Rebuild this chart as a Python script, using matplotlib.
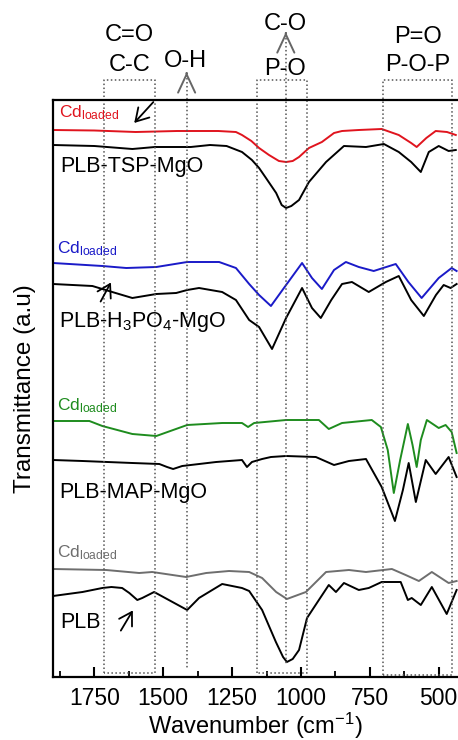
"""
FTIR stack: PLB, PLB-MAP-MgO, PLB-H3PO4-MgO, PLB-TSP-MgO before / after Cd loading.
"""
import matplotlib
matplotlib.use("Agg")
import matplotlib.pyplot as plt
from matplotlib.ticker import MultipleLocator

plt.rcParams.update({
    "font.family": ["Liberation Sans", "DejaVu Sans"],
    "mathtext.fontset": "custom",
    "mathtext.rm": "Liberation Sans",
    "mathtext.it": "Liberation Sans:italic",
    "mathtext.bf": "Liberation Sans:bold",
    "font.size": 16,
})

# ---- spectra (wavenumber cm-1, transmittance a.u., stacked) ----
TSP_CD_WN = [1900, 1750, 1600, 1450, 1300, 1236, 1214, 1180, 1152, 1116, 1080, 1054, 1030,
             1007, 971, 924, 880, 851, 790, 707, 645, 600, 580, 545, 511, 470, 438]
TSP_CD_T = [547, 546.5, 545, 546, 546, 545, 542, 536, 529, 522, 516, 515, 516,
            520, 529, 535, 544, 546, 547, 548, 542, 534, 530, 539, 546, 545, 542]

TSP_WN = [1900, 1750, 1612, 1530, 1400, 1330, 1270, 1214, 1178, 1152, 1127, 1090, 1070,
          1054, 1035, 1007, 971, 909, 844, 764, 699, 645, 600, 565, 536, 500, 464, 438]
TSP_T = [532, 531, 528, 530, 530, 532, 531, 525, 517, 509, 499, 484, 472,
         469, 471, 477, 495, 515, 531, 530, 533, 525, 515, 505, 525, 531, 526, 527]

H3PO4_CD_WN = [1900, 1721, 1634, 1525, 1413, 1297, 1236, 1188, 1152, 1109, 1054, 996, 960,
               924, 880, 837, 790, 736, 656, 610, 562, 500, 453, 435]
H3PO4_CD_T = [414, 411, 409, 410, 415, 415, 409, 393, 382, 371, 392, 414, 399,
              388, 407, 415, 410, 406, 413, 395, 379, 399, 409, 406]

H3PO4_WN = [1900, 1757, 1685, 1612, 1525, 1453, 1413, 1370, 1286, 1236, 1188, 1152, 1105,
            1054, 996, 960, 928, 890, 851, 815, 754, 692, 645, 600, 554, 510, 482, 457, 435]
H3PO4_T = [393, 391, 385, 379, 383, 384, 387, 389, 385, 377, 357, 350, 328,
           359, 389, 369, 359, 377, 393, 395, 385, 395, 401, 377, 361, 382, 392, 389, 393]

MAP_CD_WN = [1900, 1768, 1721, 1612, 1525, 1413, 1286, 1214, 1192, 1170, 1054, 935, 899,
             851, 743, 710, 685, 663, 640, 612, 595, 580, 565, 543, 500, 475, 453, 435]
MAP_CD_T = [256, 256, 251, 243, 241, 252, 254, 254, 250, 254, 257, 257, 248,
            254, 257, 250, 227, 184, 217, 253, 232, 210, 237, 257, 249, 252, 245, 224]

MAP_WN = [1900, 1793, 1612, 1514, 1486, 1464, 1431, 1308, 1214, 1196, 1178, 1141, 1109,
          1054, 946, 880, 826, 764, 707, 659, 630, 609, 583, 547, 511, 464, 435]
MAP_T = [217, 216, 214, 213, 210, 208, 211, 215, 217, 210, 215, 218, 220,
         221, 220, 212, 216, 218, 190, 156, 187, 214, 175, 217, 203, 220, 200]

PLB_CD_WN = [1900, 1707, 1587, 1540, 1417, 1344, 1261, 1188, 1141, 1090, 1051, 982, 909,
             826, 764, 670, 620, 572, 525, 464, 435]
PLB_CD_T = [108, 107, 104, 105, 100, 104, 106, 105, 99, 85, 78, 85, 105,
            107, 105, 108, 102, 96, 105, 94, 96]

PLB_WN = [1900, 1793, 1721, 1688, 1649, 1623, 1594, 1576, 1533, 1413, 1370, 1286, 1214,
          1188, 1141, 1091, 1065, 1051, 1030, 1007, 978, 935, 899, 873, 844, 790, 754, 707,
          638, 612, 598, 565, 525, 471, 435]
PLB_T = [81, 85, 89, 90, 89, 84, 77, 79, 85, 67, 79, 93, 89,
         86, 67, 35, 20, 15, 18, 27, 59, 77, 92, 85, 94, 87, 89, 95,
         95, 77, 79, 72, 90, 63, 87]

SERIES = [
    (TSP_CD_WN, TSP_CD_T, "#e0141e"),
    (TSP_WN, TSP_T, "black"),
    (H3PO4_CD_WN, H3PO4_CD_T, "#1a1ac8"),
    (H3PO4_WN, H3PO4_T, "black"),
    (MAP_CD_WN, MAP_CD_T, "#1e8c1e"),
    (MAP_WN, MAP_T, "black"),
    (PLB_CD_WN, PLB_CD_T, "#6e6e6e"),
    (PLB_WN, PLB_T, "black"),
]

# curve labels: (text, wavenumber, a.u. baseline, colour, size)
CD = r"Cd$_{\mathrm{loaded}}$"
LABELS = [
    (CD, 1880, 560, "#e0141e", 12.5),
    ("PLB-TSP-MgO", 1872, 505, "black", 15.5),
    (CD, 1884, 424, "#1a1ac8", 12.5),
    (r"PLB-H$_3$PO$_4$-MgO", 1877, 350, "black", 15.5),
    (CD, 1884, 267, "#1e8c1e", 12.5),
    ("PLB-MAP-MgO", 1877, 179, "black", 15.5),
    (CD, 1884, 120, "#6e6e6e", 12.5),
    ("PLB", 1874, 49, "black", 15.5),
]

# hand-drawn arrows: (tail wn, tail a.u., head wn, head a.u.)
ARROWS = [
    (1529, 577, 1612, 552),
    (1732, 373, 1685, 397),
    (1659, 44, 1605, 69),
]

# band assignments
BOXES = [(1715, 1530, 4), (1160, 978, 4), (702, 453, 2)]   # (left wn, right wn, bottom a.u.)
BOX_TOP = 597
LINES = [(1415, 605, 9), (1055, 645, 12)]                  # (wn, caret apex a.u., bottom a.u.)
BAND_TEXT = [
    ("C=O", 1622, 642), ("C-C", 1622, 612),
    ("O-H", 1418, 616),
    ("C-O", 1057, 653), ("P-O", 1058, 608),
    ("P=O", 577, 640), ("P-O-P", 577, 612),
]

fig = plt.figure(figsize=(4.58, 7.40), dpi=100)
ax = fig.add_axes([53 / 458, 63 / 740, 405 / 458, 577 / 740])

for wn, t, c in SERIES:
    ax.plot(wn, t, color=c, lw=1.4, solid_joinstyle="round")

dot = dict(color="#555555", lw=1.1, ls=(0, (1, 1.6)), clip_on=False)
for a, b, bot in BOXES:
    ax.plot([a, a, b, b, a], [bot, BOX_TOP, BOX_TOP, bot, bot], **dot)
for wn, apex, bot in LINES:
    ax.plot([wn, wn], [apex - 6, bot], **dot)
    ax.annotate("", xy=(wn, apex), xytext=(0, -3), textcoords="offset points",
                arrowprops=dict(arrowstyle="->,head_length=0.6,head_width=0.28",
                                color="#666666", lw=1.4, mutation_scale=22),
                annotation_clip=False)
for s, wn, y in BAND_TEXT:
    ax.text(wn, y, s, ha="center", va="center", fontsize=17, clip_on=False)

for s, wn, y, c, fs in LABELS:
    ax.text(wn, y, s, color=c, fontsize=fs, ha="left", va="baseline")

for tw, ty, hw, hy in ARROWS:
    ax.annotate("", xy=(hw, hy), xytext=(tw, ty),
                arrowprops=dict(arrowstyle="->,head_length=0.5,head_width=0.3",
                                color="black", lw=1.3, mutation_scale=18))

ax.set_xlim(1900, 430)
ax.set_ylim(0, 577)
ax.xaxis.set_major_locator(MultipleLocator(250))
ax.xaxis.set_minor_locator(MultipleLocator(125))
ax.tick_params(axis="x", which="major", direction="in", length=7, width=1.5,
               labelsize=16.5, pad=7, top=False)
ax.tick_params(axis="x", which="minor", direction="in", length=4, width=1.3, top=False)
ax.set_yticks([])
for sp in ("left", "bottom", "top"):
    ax.spines[sp].set_linewidth(1.6)
ax.spines["right"].set_visible(False)

ax.set_xlabel(r"Wavenumber (cm$^{-1}$)", fontsize=17, labelpad=1)
ax.set_ylabel("Transmittance (a.u)", fontsize=17.5, labelpad=12)

fig.savefig("out.png", dpi=100)
